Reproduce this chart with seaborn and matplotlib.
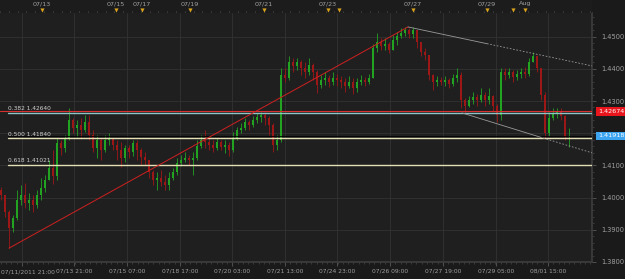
import matplotlib
matplotlib.use("Agg")
import matplotlib.pyplot as plt
import matplotlib.transforms as mtransforms
import numpy as np
import pandas as pd
import seaborn as sns

# hourly-ish candles (one per ~2.6 hours), prices
first_open = 1.4024
closes = [
    1.4008, 1.3955, 1.3906, 1.3937, 1.3993, 1.4008, 1.3983, 1.3993, 1.3977, 1.4008,
    1.4030, 1.4055, 1.4092, 1.4067, 1.4170, 1.4154, 1.4185, 1.4241, 1.4216, 1.4225,
    1.4210, 1.4235, 1.4194, 1.4154, 1.4179, 1.4148, 1.4179, 1.4185, 1.4163, 1.4148,
    1.4123, 1.4154, 1.4142, 1.4170, 1.4148, 1.4126, 1.4117, 1.4080, 1.4055, 1.4061,
    1.4048, 1.4039, 1.4061, 1.4080, 1.4107, 1.4117, 1.4123, 1.4117, 1.4123, 1.4160,
    1.4179, 1.4173, 1.4163, 1.4154, 1.4173, 1.4157, 1.4163, 1.4148, 1.4185, 1.4210,
    1.4216, 1.4235, 1.4225, 1.4241, 1.4250, 1.4257, 1.4247, 1.4225, 1.4163, 1.4179,
    1.4381, 1.4371, 1.4421, 1.4409, 1.4421, 1.4402, 1.4390, 1.4412, 1.4390, 1.4350,
    1.4365, 1.4371, 1.4359, 1.4371, 1.4365, 1.4359, 1.4347, 1.4359, 1.4340, 1.4359,
    1.4365, 1.4359, 1.4371, 1.4465, 1.4483, 1.4471, 1.4477, 1.4458, 1.4489, 1.4502,
    1.4511, 1.4520, 1.4508, 1.4520, 1.4483, 1.4452, 1.4443, 1.4381, 1.4359, 1.4365,
    1.4359, 1.4365, 1.4353, 1.4371, 1.4381, 1.4303, 1.4284, 1.4303, 1.4312, 1.4303,
    1.4319, 1.4303, 1.4316, 1.4284, 1.4257, 1.4390, 1.4381, 1.4390, 1.4375, 1.4384,
    1.4390, 1.4384, 1.4421, 1.4440, 1.4402, 1.4319, 1.4201, 1.4247, 1.4260, 1.4266,
    1.4253, 1.4188, 1.4192,
]
highs = [
    1.4033, 1.4008, 1.3961, 1.3946, 1.4024, 1.4039, 1.4045, 1.4014, 1.4008, 1.4024,
    1.4061, 1.4070, 1.4117, 1.4148, 1.4185, 1.4179, 1.4194, 1.4278, 1.4247, 1.4241,
    1.4247, 1.4257, 1.4257, 1.4210, 1.4194, 1.4185, 1.4194, 1.4201, 1.4185, 1.4179,
    1.4173, 1.4163, 1.4163, 1.4179, 1.4179, 1.4154, 1.4142, 1.4117, 1.4086, 1.4080,
    1.4086, 1.4070, 1.4080, 1.4092, 1.4123, 1.4132, 1.4142, 1.4132, 1.4142, 1.4179,
    1.4194, 1.4210, 1.4185, 1.4179, 1.4185, 1.4179, 1.4179, 1.4173, 1.4204, 1.4219,
    1.4232, 1.4247, 1.4241, 1.4253, 1.4263, 1.4266, 1.4266, 1.4253, 1.4232, 1.4194,
    1.4402, 1.4402, 1.4440, 1.4434, 1.4434, 1.4427, 1.4421, 1.4434, 1.4418, 1.4396,
    1.4381, 1.4390, 1.4381, 1.4390, 1.4384, 1.4378, 1.4371, 1.4378, 1.4371, 1.4371,
    1.4381, 1.4375, 1.4384, 1.4477, 1.4511, 1.4496, 1.4496, 1.4483, 1.4505, 1.4514,
    1.4527, 1.4530, 1.4527, 1.4530, 1.4520, 1.4483, 1.4465, 1.4443, 1.4384, 1.4378,
    1.4375, 1.4378, 1.4371, 1.4384, 1.4402, 1.4390, 1.4309, 1.4316, 1.4328, 1.4322,
    1.4340, 1.4328, 1.4340, 1.4319, 1.4291, 1.4402, 1.4402, 1.4402, 1.4396, 1.4396,
    1.4402, 1.4406, 1.4434, 1.4452, 1.4443, 1.4402, 1.4328, 1.4266, 1.4278, 1.4278,
    1.4278, 1.4257, 1.4216,
]
lows = [
    1.3993, 1.3940, 1.3843, 1.3893, 1.3930, 1.3977, 1.3968, 1.3961, 1.3955, 1.3968,
    1.3993, 1.4017, 1.4055, 1.4042, 1.4055, 1.4132, 1.4142, 1.4179, 1.4201, 1.4188,
    1.4185, 1.4204, 1.4179, 1.4142, 1.4123, 1.4117, 1.4142, 1.4163, 1.4148, 1.4117,
    1.4095, 1.4111, 1.4123, 1.4129, 1.4117, 1.4101, 1.4101, 1.4061, 1.4039, 1.4024,
    1.4036, 1.4024, 1.4024, 1.4055, 1.4070, 1.4098, 1.4111, 1.4101, 1.4070, 1.4117,
    1.4154, 1.4154, 1.4148, 1.4142, 1.4148, 1.4148, 1.4139, 1.4129, 1.4142, 1.4179,
    1.4201, 1.4210, 1.4210, 1.4219, 1.4232, 1.4235, 1.4225, 1.4194, 1.4142, 1.4148,
    1.4173, 1.4359, 1.4365, 1.4390, 1.4396, 1.4381, 1.4371, 1.4381, 1.4365, 1.4325,
    1.4340, 1.4350, 1.4344, 1.4350, 1.4347, 1.4340, 1.4328, 1.4340, 1.4322, 1.4328,
    1.4350, 1.4347, 1.4353, 1.4371, 1.4452, 1.4458, 1.4458, 1.4449, 1.4458, 1.4474,
    1.4496, 1.4502, 1.4496, 1.4496, 1.4465, 1.4440, 1.4427, 1.4365, 1.4334, 1.4347,
    1.4350, 1.4347, 1.4340, 1.4347, 1.4359, 1.4278, 1.4263, 1.4281, 1.4291, 1.4284,
    1.4297, 1.4284, 1.4291, 1.4266, 1.4235, 1.4241, 1.4365, 1.4371, 1.4359, 1.4365,
    1.4371, 1.4371, 1.4378, 1.4421, 1.4390, 1.4303, 1.4185, 1.4191, 1.4241, 1.4247,
    1.4241, 1.4179, 1.4157,
]

# fibonacci retracement levels
fib_ratio = ["0.382", "0.500", "0.618"]
fib_price = [1.42640, 1.41840, 1.41021]
ask_price = 1.42674
bid_price = 1.41918

# trend lines (candle index, price)
up_x, up_y = [2, 101.75], [1.3843, 1.4530]
hi_x, hi_y = [101.75, 121.5, 147.75], [1.4530, 1.4478, 1.4409]
lo_x, lo_y = [115.25, 134.75, 147.75], [1.4263, 1.4188, 1.4139]

# axis labels
bottom_labels = ["07/11/2011 21:00", "07/13 21:00", "07/15 07:00", "07/18 17:00",
                 "07/20 03:00", "07/21 13:00", "07/24 23:00", "07/26 09:00",
                 "07/27 19:00", "07/29 05:00", "08/01 15:00"]
bottom_at = [5.25, 18.25, 31.5, 44.75, 57.75, 71, 84, 97.25, 110.5, 123.75, 136.75]
top_labels = ["07/13", "07/15", "07/17", "07/19", "07/21", "07/23", "07/27", "07/29", "Aug"]
top_at = [10.25, 28.75, 35.25, 47.25, 65.75, 81.75, 103, 121.5, 131]
event_at = [10.25, 28.75, 35.25, 47.25, 65.75, 81.75, 84.5, 103, 121.5, 128, 131]
price_ticks = [1.38, 1.39, 1.40, 1.41, 1.42, 1.43, 1.44, 1.45]
hidden_tick = 1.42  # covered by the bid box

bg = "#1f1f1f"
grid_c = "#333333"
txt_c = "#a0a0a0"
up_c = "#22a322"
dn_c = "#9e1717"
XLIM = (-0.25, 147.75)
YLIM = (1.3800, 1.45733)

sns.set_theme(style="dark", rc={
    "axes.facecolor": bg, "figure.facecolor": "#1a1a1a",
    "axes.edgecolor": "#3c3c3c", "grid.color": grid_c,
})
plt.rcParams["font.family"] = ["DejaVu Sans"]

df = pd.DataFrame({"close": closes, "high": highs, "low": lows})
df["open"] = [first_open] + closes[:-1]
df["i"] = np.arange(len(df))
df["rise"] = df["close"] >= df["open"]

fig = plt.figure(figsize=(6.25, 2.79), dpi=100)
ax = fig.add_axes([0, 17 / 279, 592 / 625, 249 / 279])
top = fig.add_axes([0, 266 / 279, 592 / 625, 13 / 279])

# grid
for x in bottom_at:
    ax.axvline(x, color=grid_c, lw=0.6, zorder=0)
for y in price_ticks:
    ax.axhline(y, color=grid_c, lw=0.6, zorder=0)

# candles
colors = np.where(df["rise"], up_c, dn_c)
ax.vlines(df["i"], df["low"], df["high"], colors=colors, lw=0.6, zorder=3)
body_lo = df[["open", "close"]].min(axis=1)
body_h = (df["close"] - df["open"]).abs().clip(lower=0.00012)
ax.bar(df["i"], body_h, bottom=body_lo, width=0.38, color=colors, linewidth=0, zorder=3)

# fib levels and price lines
ax.axhline(ask_price, color="#d83030", lw=0.8, zorder=4)
ax.plot([1.75, XLIM[1]], [bid_price, bid_price], color="#000000", lw=0.6, zorder=4)
fib_colors = ["#8fc4c4", "#e6dfb4", "#e6dfb4"]
for r, p, c in zip(fib_ratio, fib_price, fib_colors):
    ax.plot([1.75, XLIM[1]], [p, p], color=c, lw=1.0, zorder=4)
    ax.text(1.75, p + 0.0004, f"{r} {p:.5f}", color="#d0d0d0", fontsize=4.2,
            va="bottom", ha="left", zorder=5)

# trend lines
sns.lineplot(x=up_x, y=up_y, ax=ax, color="#d02020", lw=0.7, zorder=5)
sns.lineplot(x=hi_x[:2], y=hi_y[:2], ax=ax, color="#9a9a9a", lw=0.6, zorder=5)
sns.lineplot(x=hi_x[1:], y=hi_y[1:], ax=ax, color="#9a9a9a", lw=0.6, ls=(0, (2, 2)), zorder=5)
sns.lineplot(x=lo_x[:2], y=lo_y[:2], ax=ax, color="#9a9a9a", lw=0.6, zorder=5)
sns.lineplot(x=lo_x[1:], y=lo_y[1:], ax=ax, color="#9a9a9a", lw=0.6, ls=(0, (2, 2)), zorder=5)

# axes ticks
ax.yaxis.tick_right()
ax.set_yticks(price_ticks)
ax.set_yticklabels(["" if p == hidden_tick else f"{p:.4f}" for p in price_ticks],
                   fontsize=4.8, color=txt_c)
ax.set_yticks(np.arange(1.380, 1.4574, 0.002), minor=True)
ax.tick_params(axis="y", which="major", length=3, width=0.5, color="#666666", pad=4, right=True)
ax.tick_params(axis="y", which="minor", length=1.5, width=0.4, color="#555555", right=True)
ax.set_xticks(bottom_at)
# first label is pinned to the left edge like the original terminal does
ax.set_xticklabels([""] + bottom_labels[1:], fontsize=4.3, color=txt_c)
ax.annotate(bottom_labels[0], xy=(XLIM[0], 0), xycoords=("data", "axes fraction"),
            xytext=(0.5, -5.3), textcoords="offset points", fontsize=4.3, color=txt_c,
            ha="left", va="top", annotation_clip=False)
ax.set_xticks(np.arange(bottom_at[0] - 13.15, 148, 1.315), minor=True)
ax.tick_params(axis="x", which="major", length=3, width=0.5, color="#666666", pad=2, bottom=True)
ax.tick_params(axis="x", which="minor", length=1.5, width=0.4, color="#555555", bottom=True)
ax.set_xlabel("")
ax.set_ylabel("")
for s in ["top", "left"]:
    ax.spines[s].set_visible(False)
ax.grid(False)
ax.set_xlim(*XLIM)
ax.set_ylim(*YLIM)

# current price boxes on the right axis
trans = mtransforms.blended_transform_factory(ax.transAxes, ax.transData)
ax.text(1.01, ask_price, f"{ask_price:.5f}", transform=trans, fontsize=4.6, color="white",
        va="center", ha="left", zorder=10, clip_on=False,
        bbox=dict(boxstyle="square,pad=0.25", fc="#e8161c", ec="none"))
ax.text(1.01, bid_price, f"{bid_price:.5f}", transform=trans, fontsize=4.6, color="white",
        va="center", ha="left", zorder=10, clip_on=False,
        bbox=dict(boxstyle="square,pad=0.25", fc="#3da5f0", ec="none"))

# top date strip with event markers
top.set_facecolor("#1c1c1c")
for x, lab in zip(top_at, top_labels):
    top.text(x, 4, lab, fontsize=4.6, color=txt_c, ha="center", va="center")
top.scatter(event_at, [10] * len(event_at), marker="v", s=9, color="#d8a21e", zorder=5, linewidths=0)
top.axhline(12.5, color="#4a4a4a", lw=0.6)
for x in np.arange(XLIM[0], XLIM[1], 2.2):
    top.plot([x, x], [10.5, 12.5], color="#555555", lw=0.4)
top.set_xlim(*XLIM)
top.set_ylim(13, 0)
top.set_xticks([])
top.set_yticks([])
for s in top.spines.values():
    s.set_visible(False)

fig.savefig("out.png", dpi=100, facecolor=fig.get_facecolor())
